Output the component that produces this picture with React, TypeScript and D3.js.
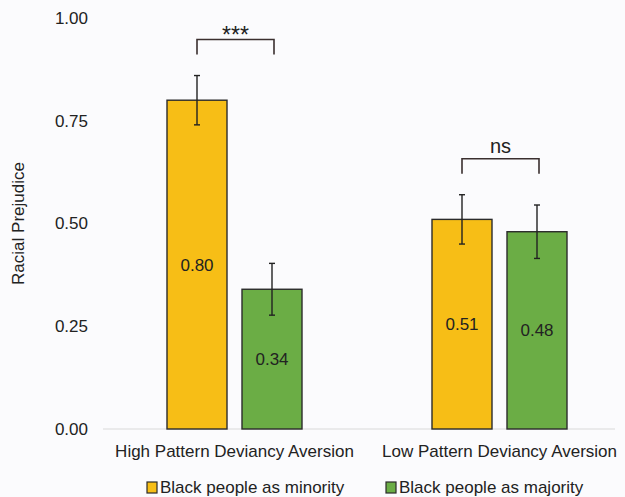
import React from "react";
import * as d3 from "d3";

// Groups on the x axis and the two series
const groups = ["High Pattern Deviancy Aversion", "Low Pattern Deviancy Aversion"];
const seriesNames = ["Black people as minority", "Black people as majority"];
const minorityValues = [0.8, 0.51];
const majorityValues = [0.34, 0.48];
const minorityErrors = [0.06, 0.06];
const majorityErrors = [0.063, 0.065];
const yTicks = [0, 0.25, 0.5, 0.75, 1.0];
const significance = ["***", "ns"];

const colors = ["#F7BE16", "#6BAD45"];

const W = 625;
const H = 497;

export default function App() {
  const y = d3.scaleLinear().domain([0, 1]).range([429, 18]);
  const x0 = d3.scaleBand().domain(groups).range([102, 632]).paddingInner(0).paddingOuter(0);
  const x1 = d3.scaleBand().domain(seriesNames).range([0, 135]).paddingInner(0.2);
  const groupOffset = (g: string) => (x0(g) as number) + x0.bandwidth() / 2 - 67.5;

  const series = [
    { name: seriesNames[0], values: minorityValues, errors: minorityErrors, color: colors[0] },
    { name: seriesNames[1], values: majorityValues, errors: majorityErrors, color: colors[1] },
  ];

  const bw = x1.bandwidth();
  const fmt = d3.format(".2f");

  return (
    <svg
      width={W}
      height={H}
      style={{ position: "absolute", left: 0, top: 0, fontFamily: "'Liberation Sans', Arial, sans-serif" }}
    >
      <rect width={W} height={H} fill="#fbfbfd" />

      {/* y tick labels */}
      {yTicks.map((t) => (
        <text key={t} x={88} y={y(t)} dy="0.35em" textAnchor="end" fontSize={17} fill="#222">
          {fmt(t)}
        </text>
      ))}

      {/* y axis title */}
      <text
        transform={`translate(24,${(y(0) + y(1)) / 2}) rotate(-90)`}
        textAnchor="middle"
        fontSize={17}
        fill="#222"
      >
        Racial Prejudice
      </text>

      {/* baseline */}
      <line x1={103} x2={615} y1={y(0)} y2={y(0)} stroke="#d9d9d9" strokeWidth={1.2} />

      {/* bars */}
      {series.map((s) =>
        groups.map((g, i) => {
          const bx = groupOffset(g) + (x1(s.name) as number);
          const v = s.values[i];
          const cx = bx + bw / 2;
          return (
            <g key={s.name + g}>
              <rect
                x={bx}
                y={y(v)}
                width={bw}
                height={y(0) - y(v)}
                fill={s.color}
                stroke="#2b2b2b"
                strokeWidth={1.4}
              />
              <text x={cx} y={(y(v) + y(0)) / 2} dy="0.35em" textAnchor="middle" fontSize={17} fill="#222">
                {fmt(v)}
              </text>
              {/* error bar */}
              <g stroke="#222" strokeWidth={1.4}>
                <line x1={cx} x2={cx} y1={y(v + s.errors[i])} y2={y(v - s.errors[i])} />
                <line x1={cx - 3} x2={cx + 3} y1={y(v + s.errors[i])} y2={y(v + s.errors[i])} />
                <line x1={cx - 3} x2={cx + 3} y1={y(v - s.errors[i])} y2={y(v - s.errors[i])} />
              </g>
            </g>
          );
        })
      )}

      {/* significance brackets */}
      {groups.map((g, i) => {
        const left = groupOffset(g) + (x1(seriesNames[0]) as number) + bw / 2;
        const right = groupOffset(g) + (x1(seriesNames[1]) as number) + bw / 2 + 2;
        const top = Math.min(
          y(minorityValues[i] + minorityErrors[i]),
          y(majorityValues[i] + majorityErrors[i])
        ) - 36;
        return (
          <g key={"sig" + g}>
            <path
              d={`M${left},${top + 15}V${top}H${right}V${top + 15}`}
              fill="none"
              stroke="#3a2f2f"
              strokeWidth={1.6}
            />
            <text
              x={(left + right) / 2}
              y={i === 0 ? top + 3 : top - 6}
              textAnchor="middle"
              fontSize={i === 0 ? 23 : 20}
              fill="#222"
            >
              {significance[i]}
            </text>
          </g>
        );
      })}

      {/* x labels */}
      {groups.map((g) => (
        <text
          key={"lbl" + g}
          x={groupOffset(g) + 67.5}
          y={451}
          dy="0.35em"
          textAnchor="middle"
          fontSize={17}
          fill="#222"
        >
          {g}
        </text>
      ))}

      {/* legend */}
      {series.map((s, i) => {
        const lx = [147, 386][i];
        return (
          <g key={"leg" + s.name}>
            <rect x={lx} y={482} width={10} height={11} fill={s.color} stroke="#2b2b2b" strokeWidth={1.2} />
            <text x={lx + 13} y={487.5} dy="0.35em" fontSize={17} fill="#222">
              {s.name}
            </text>
          </g>
        );
      })}
    </svg>
  );
}
